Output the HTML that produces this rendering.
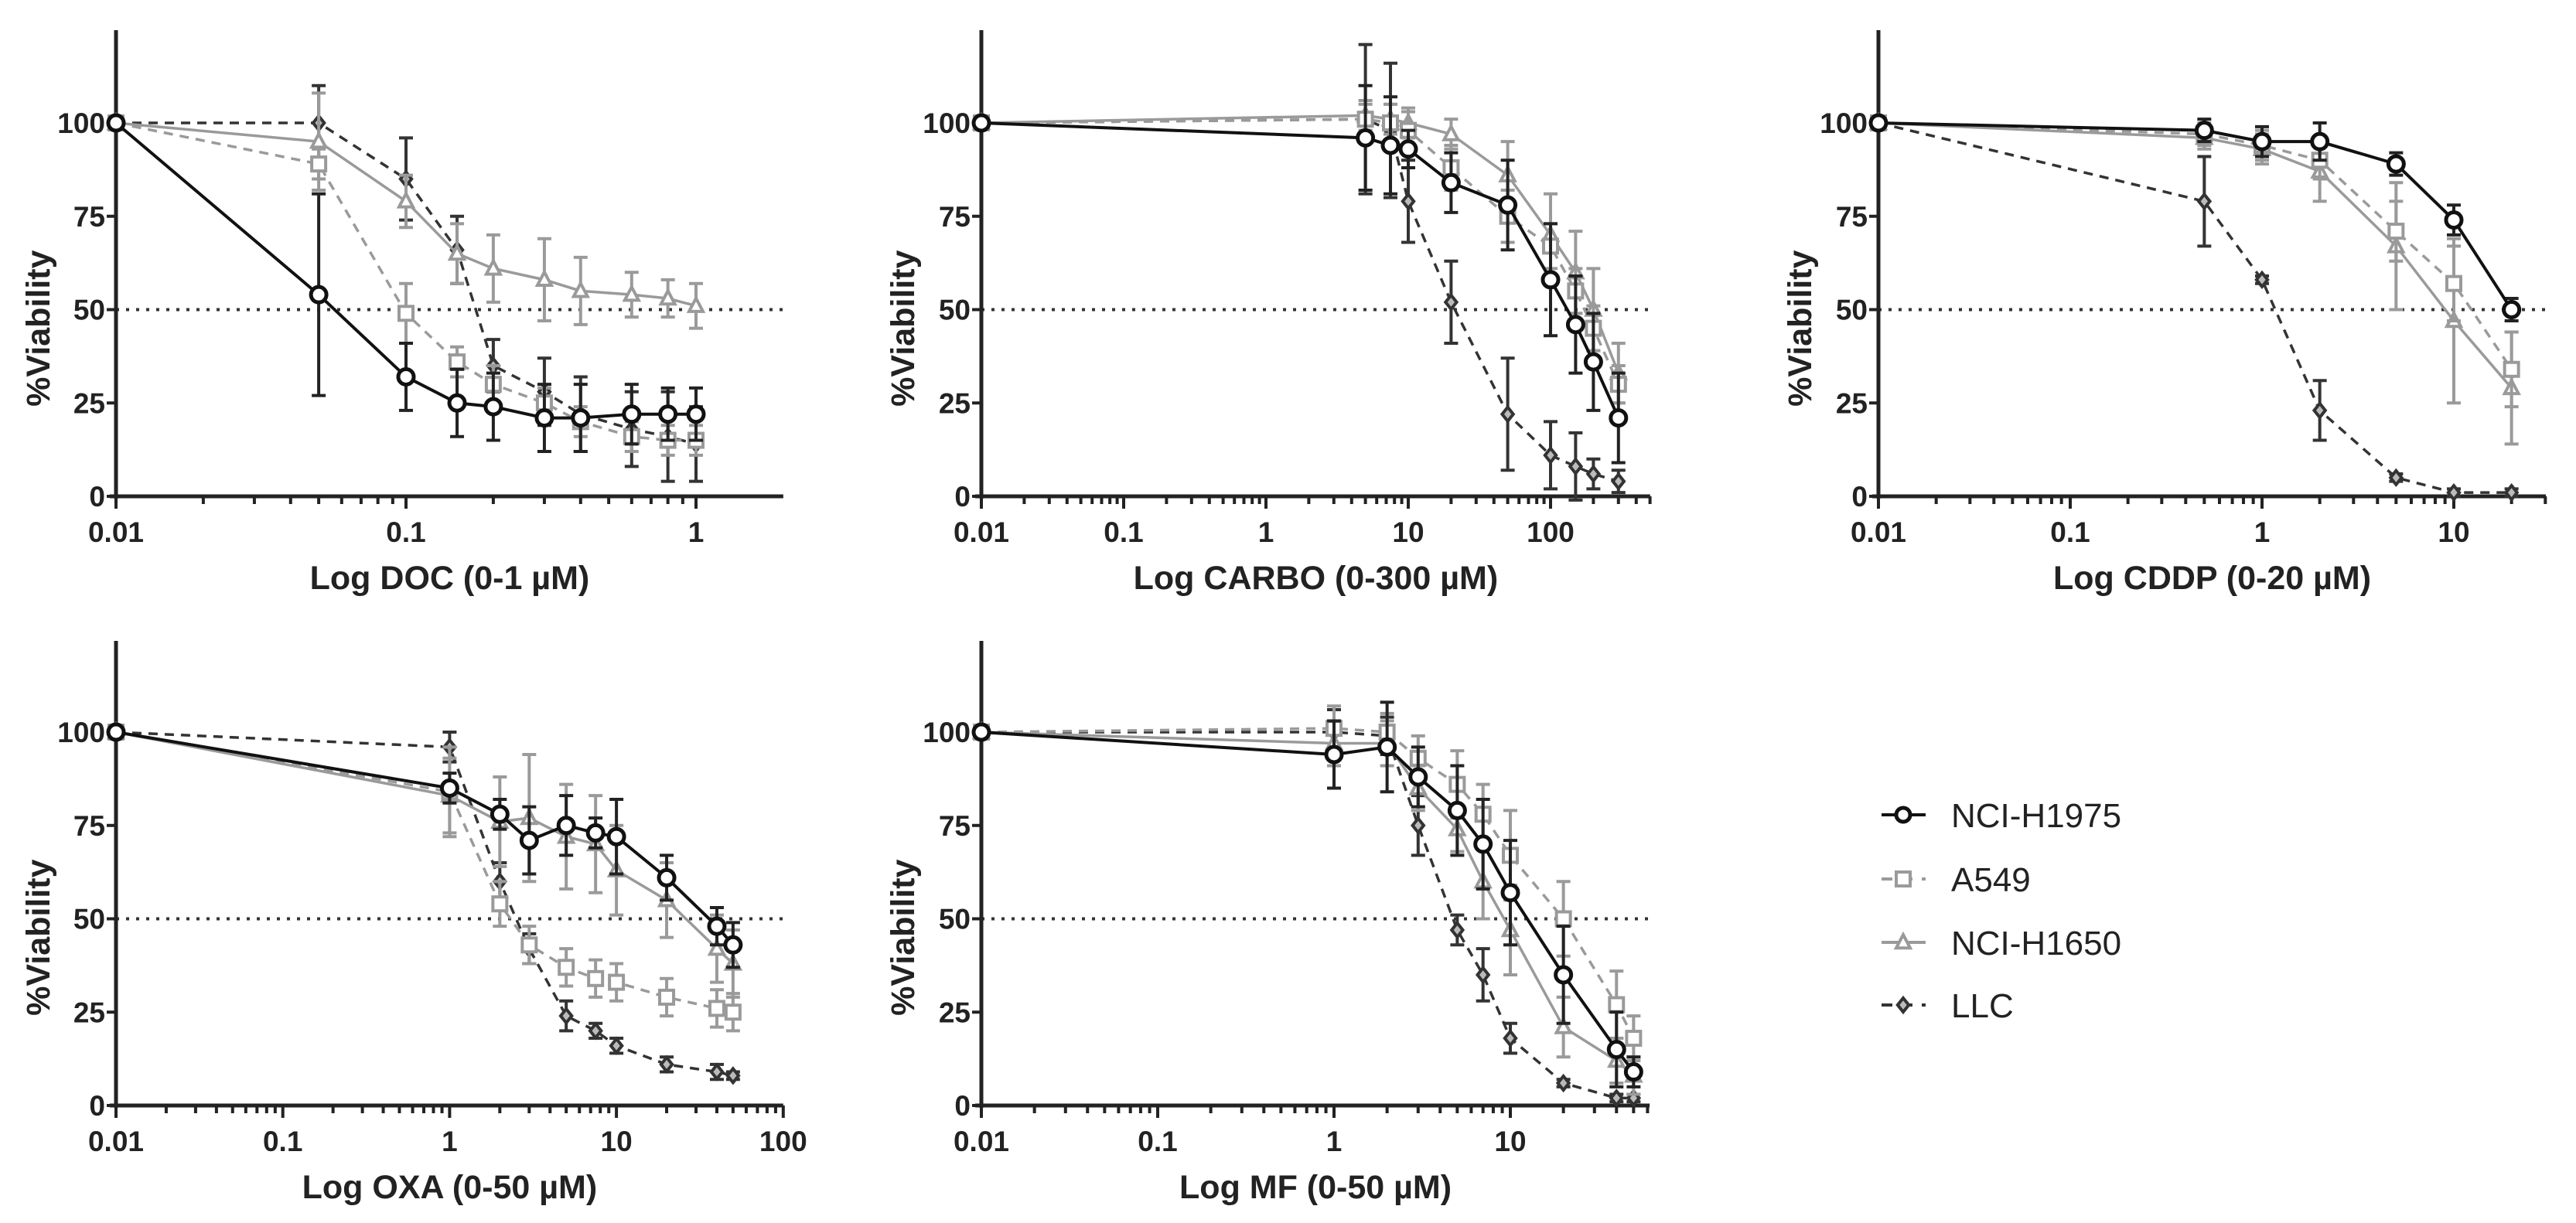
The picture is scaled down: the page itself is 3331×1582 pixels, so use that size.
<!DOCTYPE html>
<html><head><meta charset="utf-8"><style>
html,body{margin:0;padding:0;background:#fff;}
svg{display:block;font-family:"Liberation Sans",Arial,sans-serif;}
</style></head><body>
<svg id="fig" width="3331" height="1582" viewBox="0 0 3331 1582"></svg>
<script>
// ---- data ----
const seriesNames = ["NCI-H1975","A549","NCI-H1650","LLC"];
const docX = [0.01,0.05,0.1,0.15,0.2,0.3,0.4,0.6,0.8,1];
const docH1975 = [100,54,32,25,24,21,21,22,22,22];
const docH1975Err = [0,27,9,9,9,9,9,8,7,7];
const docA549 = [100,89,49,36,30,25,20,16,15,15];
const docA549Err = [0,4,8,4,5,4,4,4,4,4];
const docH1650 = [100,95,79,65,61,58,55,54,53,51];
const docH1650Err = [0,13,7,8,9,11,9,6,5,6];
const docLLC = [100,100,85,66,35,28,22,18,16,14];
const docLLCErr = [0,10,11,9,7,9,10,10,12,10];

const carboX = [0.01,5,7.5,10,20,50,100,150,200,300];
const carboH1975 = [100,96,94,93,84,78,58,46,36,21];
const carboH1975Err = [0,14,13,5,8,12,15,13,13,12];
const carboA549 = [100,101,100,98,88,75,67,55,45,30];
const carboA549Err = [0,4,5,5,6,7,6,6,6,5];
const carboH1650 = [100,102,101,100,97,86,70,60,50,33];
const carboH1650Err = [0,4,4,4,4,9,11,11,11,8];
const carboLLC = [100,101,98,79,52,22,11,8,6,4];
const carboLLCErr = [0,20,18,11,11,15,9,9,4,3];

const cddpX = [0.01,0.5,1,2,5,10,20];
const cddpH1975 = [100,98,95,95,89,74,50];
const cddpH1975Err = [0,3,4,5,3,4,3];
const cddpA549 = [100,97,94,90,71,57,34];
const cddpA549Err = [0,3,4,5,8,10,10];
const cddpH1650 = [100,96,93,87,67,47,29];
const cddpH1650Err = [0,3,4,8,17,22,15];
const cddpLLC = [100,79,58,23,5,1,1];
const cddpLLCErr = [0,12,1,8,1,1,1];

const oxaX = [0.01,1,2,3,5,7.5,10,20,40,50];
const oxaH1975 = [100,85,78,71,75,73,72,61,48,43];
const oxaH1975Err = [0,4,4,9,8,4,10,6,5,6];
const oxaA549 = [100,84,54,43,37,34,33,29,26,25];
const oxaA549Err = [0,12,6,5,5,5,5,5,5,5];
const oxaH1650 = [100,83,76,77,72,70,63,55,42,38];
const oxaH1650Err = [0,10,12,17,14,13,12,10,9,9];
const oxaLLC = [100,96,60,42,24,20,16,11,9,8];
const oxaLLCErr = [0,4,5,4,4,2,2,2,2,1];

const mfX = [0.01,1,2,3,5,7,10,20,40,50];
const mfH1975 = [100,94,96,88,79,70,57,35,15,9];
const mfH1975Err = [0,9,12,8,12,12,14,13,10,4];
const mfA549 = [100,101,100,93,86,78,67,50,27,18];
const mfA549Err = [0,6,5,6,9,8,12,10,9,6];
const mfH1650 = [100,97,97,85,74,60,47,21,12,8];
const mfH1650Err = [0,6,6,6,6,10,12,8,6,5];
const mfLLC = [100,100,99,75,47,35,18,6,2,2];
const mfLLCErr = [0,6,5,8,4,7,4,1,1,1];

const yTicks = [0,25,50,75,100];

// ---- layout ----
const NS="http://www.w3.org/2000/svg";
const svg=document.getElementById('fig');
function mk(tag,attrs,parent){const e=document.createElementNS(NS,tag);for(const k in attrs)e.setAttribute(k,attrs[k]);(parent||svg).appendChild(e);return e;}

const styles=[
 {stroke:"#111",dash:"",marker:"circle",fill:"none",err:"#222"},
 {stroke:"#9a9a9a",dash:"12,9",marker:"square",fill:"none",err:"#9a9a9a"},
 {stroke:"#9a9a9a",dash:"",marker:"triangle",fill:"none",err:"#9a9a9a"},
 {stroke:"#333",dash:"12,9",marker:"diamond",fill:"#888",err:"#333"}
];

const panels=[
 {key:"doc",title:"Log DOC (0-1 µM)",x0:150,dec:375,xmax:0.301,y0:642,yh:4.83,top:39,ytx:49,labels:["0.01","0.1","1"],
  xs:docX,ys:[docH1975,docA549,docH1650,docLLC],es:[docH1975Err,docA549Err,docH1650Err,docLLCErr]},
 {key:"carbo",title:"Log CARBO (0-300 µM)",x0:1269,dec:184,xmax:2.7,y0:642,yh:4.83,top:39,ytx:1167,labels:["0.01","0.1","1","10","100"],
  xs:carboX,ys:[carboH1975,carboA549,carboH1650,carboLLC],es:[carboH1975Err,carboA549Err,carboH1650Err,carboLLCErr]},
 {key:"cddp",title:"Log CDDP (0-20 µM)",x0:2429,dec:248,xmax:1.48,y0:642,yh:4.83,top:39,ytx:2327,labels:["0.01","0.1","1","10"],
  xs:cddpX,ys:[cddpH1975,cddpA549,cddpH1650,cddpLLC],es:[cddpH1975Err,cddpA549Err,cddpH1650Err,cddpLLCErr]},
 {key:"oxa",title:"Log OXA (0-50 µM)",x0:150,dec:215.7,xmax:2,y0:1430,yh:4.83,top:829,ytx:49,labels:["0.01","0.1","1","10","100"],
  xs:oxaX,ys:[oxaH1975,oxaA549,oxaH1650,oxaLLC],es:[oxaH1975Err,oxaA549Err,oxaH1650Err,oxaLLCErr]},
 {key:"mf",title:"Log MF (0-50 µM)",x0:1269,dec:228,xmax:1.79,y0:1430,yh:4.83,top:829,ytx:1167,labels:["0.01","0.1","1","10"],
  xs:mfX,ys:[mfH1975,mfA549,mfH1650,mfLLC],es:[mfH1975Err,mfA549Err,mfH1650Err,mfLLCErr]}
];

function drawMarker(g,type,cx,cy,st,r){
  let e;
  if(type==="circle") e=mk('circle',{cx:cx,cy:cy,r:r,fill:"#fff",stroke:st.stroke,'stroke-width':5},g);
  else if(type==="square") e=mk('rect',{x:cx-r,y:cy-r,width:2*r,height:2*r,fill:"#fff",stroke:st.stroke,'stroke-width':4},g);
  else if(type==="triangle") e=mk('polygon',{points:`${cx},${cy-r*1.1} ${cx+r},${cy+r*0.8} ${cx-r},${cy+r*0.8}`,fill:"#fff",stroke:st.stroke,'stroke-width':4},g);
  else e=mk('polygon',{points:`${cx},${cy-r} ${cx+r*0.8},${cy} ${cx},${cy+r} ${cx-r*0.8},${cy}`,fill:"#bbb",stroke:st.stroke,'stroke-width':4},g);
  return e;
}

panels.forEach(p=>{
  const g=mk('g',{});
  
  
  const X=v=>p.x0+(Math.log10(v)+2)*p.dec;
  const Y=v=>p.y0-v*p.yh;
  const xEnd=p.x0+(p.xmax+2)*p.dec;
  // dotted 50 line
  const d50=mk('line',{x1:p.x0,y1:Y(50),x2:xEnd,y2:Y(50),stroke:"#333",'stroke-width':4,'stroke-dasharray':"4,9"},g);
  
  
  // axes
  const ya=mk('line',{x1:p.x0,y1:p.top,x2:p.x0,y2:p.y0+3,stroke:"#222",'stroke-width':5},g);
  
  
  const xa=mk('line',{x1:p.x0-8,y1:p.y0,x2:xEnd,y2:p.y0,stroke:"#222",'stroke-width':5},g);
  
  
  yTicks.forEach(t=>{
    mk('line',{x1:p.x0-12,y1:Y(t),x2:p.x0,y2:Y(t),stroke:"#222",'stroke-width':4},g);
    const tl=mk('text',{x:p.x0-14,y:Y(t)+13,'text-anchor':'end','font-size':37,'font-weight':'bold',fill:"#222"},g);
    tl.textContent=t;
    
    
  });
  // x ticks
  for(let d=-2; d<=Math.ceil(p.xmax); d++){
    for(let m=1;m<=9;m++){
      const lv=d+Math.log10(m);
      if(lv>p.xmax+1e-6) break;
      const x=p.x0+(lv+2)*p.dec;
      mk('line',{x1:x,y1:p.y0,x2:x,y2:p.y0+(m===1?16:10),stroke:"#222",'stroke-width':4},g);
    }
  }
  p.labels.forEach((l,i)=>{
    const tl=mk('text',{x:p.x0+i*p.dec,y:p.y0+59,'text-anchor':'middle','font-size':37,'font-weight':'bold',fill:"#222"},g);
    tl.textContent=l;
    
    
  });
  const xt=mk('text',{x:(p.x0+xEnd)/2,y:p.y0+120,'text-anchor':'middle','font-size':43,'font-weight':'bold',fill:"#222"},g);
  xt.textContent=p.title;
  
  
  const yc=Y(45);
  const yt=mk('text',{x:p.ytx,y:yc,'text-anchor':'middle','font-size':43,'font-weight':'bold',fill:"#222",transform:`rotate(-90 ${p.ytx} ${yc}) translate(0 15)`},g);
  yt.textContent="%Viability";
  
  
  // series (draw LLC, H1650, A549, H1975 order so black on top)
  [3,2,1,0].forEach(si=>{
    const st=styles[si];
    const sg=mk('g',{},g);
    
    
    const ys=p.ys[si], es=p.es[si];
    // error bars
    p.xs.forEach((xv,i)=>{
      if(es[i]<=0.5) return;
      const cx=X(xv);
      const eb=mk('path',{d:`M${cx},${Y(ys[i]-es[i])}V${Y(ys[i]+es[i])}M${cx-9},${Y(ys[i]-es[i])}H${cx+9}M${cx-9},${Y(ys[i]+es[i])}H${cx+9}`,stroke:st.err,'stroke-width':4,fill:'none'},sg);
      
      
    });
    const pts=p.xs.map((xv,i)=>X(xv)+','+Y(ys[i])).join(' ');
    const ln=mk('polyline',{points:pts,fill:'none',stroke:st.stroke,'stroke-width':si===0?4:3.5,'stroke-dasharray':st.dash},sg);
    
    
    p.xs.forEach((xv,i)=>{
      const mkr=drawMarker(sg,st.marker,X(xv),Y(ys[i]),st,si===0?10:9);
      
      
    });
  });
});

// legend
const lg=mk('g',{});


const legendY=[1054,1137,1219,1300];
seriesNames.forEach((n,i)=>{
  const st=styles[i];
  const eg=mk('g',{},lg);
  
  
  mk('line',{x1:2433,y1:legendY[i],x2:2490,y2:legendY[i],stroke:st.stroke,'stroke-width':4,'stroke-dasharray':st.dash?"14,12":""},eg);
  drawMarker(eg,st.marker,2461,legendY[i],st,9);
  const t=mk('text',{x:2523,y:legendY[i]+16,'font-size':44,fill:"#222"},eg);
  t.textContent=n;
});
</script>
</body></html>
